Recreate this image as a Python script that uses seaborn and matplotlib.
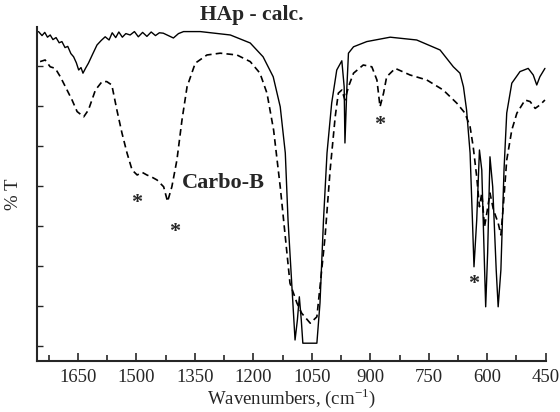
import numpy as np
import pandas as pd
import matplotlib
matplotlib.use("Agg")
import matplotlib.pyplot as plt
import seaborn as sns

# HAp - calc. (solid line), wavenumber in cm-1 and %T in arbitrary units
hap_wn = [1751, 1742, 1735, 1728, 1721, 1714, 1706, 1698, 1691, 1683, 1676, 1668, 1661,
          1654, 1648, 1642, 1637, 1630, 1623, 1612, 1601, 1590, 1580, 1570, 1562, 1553,
          1545, 1536, 1527, 1516, 1505, 1495, 1484, 1473, 1462, 1451, 1441, 1431, 1418,
          1405, 1392, 1379, 1336, 1259, 1208, 1175, 1149, 1131, 1118, 1111, 1101, 1093,
          1087, 1082, 1077, 1073, 1037, 1029, 1020, 1011, 999, 986, 973, 967, 965, 960,
          956, 943, 909, 849, 781, 721, 687, 670, 661, 653, 644, 638, 634, 627, 620, 614,
          608, 604, 599, 593, 586, 577, 572, 565, 557, 550, 537, 516, 495, 482, 473, 465,
          452]
hap_t = [78.6, 77.6, 78.4, 77.2, 77.75, 76.6, 77.1, 75.8, 76.1, 74.6, 74.9, 73.1, 72.3,
         70.8, 69.0, 69.6, 68.2, 69.5, 70.7, 73.0, 75.25, 76.4, 77.3, 76.5, 78.3, 77.1,
         78.5, 77.2, 78.1, 77.75, 78.6, 77.3, 78.4, 77.4, 78.5, 77.6, 78.3, 78.2, 77.6,
         77.0, 78.1, 78.6, 78.6, 77.75, 75.75, 72.3, 67.3, 59.8, 48.25, 31.5, 14.8, 1.5,
         6.5, 12.3, 6.5, 0.7, 0.7, 10.75, 31.5, 48.25, 60.75, 69.0, 71.3, 64.8, 50.75,
         64.8, 73.2, 74.8, 76.1, 77.2, 76.5, 74.0, 69.8, 68.2, 64.8, 59.0, 48.25, 31.5,
         19.8, 31.5, 49.0, 44.0, 23.25, 9.8, 23.25, 47.3, 39.8, 19.0, 9.8, 19.0, 44.0,
         58.25, 65.7, 68.6, 69.4, 67.75, 65.25, 67.3, 69.4]

# Carbo-B (dashed line)
carbo_wn = [1747, 1734, 1721, 1708, 1695, 1682, 1665, 1652, 1635, 1623, 1605, 1588, 1576,
            1563, 1550, 1537, 1524, 1511, 1498, 1485, 1473, 1460, 1447, 1430, 1420, 1409,
            1396, 1383, 1370, 1349, 1319, 1285, 1242, 1208, 1183, 1165, 1148, 1131, 1118,
            1106, 1088, 1076, 1054, 1037, 1029, 1016, 1003, 990, 982, 973, 965, 956, 943,
            918, 896, 883, 875, 866, 858, 836, 798, 755, 713, 678, 657, 644, 636, 627,
            620, 614, 607, 601, 593, 584, 572, 565, 559, 550, 537, 524, 503, 490, 477,
            465, 452]
carbo_t = [71.1, 71.5, 69.8, 69.4, 67.3, 64.8, 61.5, 58.6, 57.3, 59.0, 64.0, 66.1, 66.1,
           65.25, 59.0, 53.25, 48.25, 44.0, 42.75, 43.4, 42.75, 42.2, 41.5, 39.8, 36.1,
           39.8, 46.5, 56.5, 64.8, 70.7, 72.75, 73.2, 72.75, 71.1, 68.2, 63.2, 54.0, 39.8,
           27.3, 15.7, 10.7, 8.2, 5.7, 7.3, 14.8, 27.3, 44.0, 57.3, 63.2, 64.0, 61.5, 64.8,
           68.2, 70.25, 69.8, 66.5, 59.8, 63.2, 67.3, 69.4, 67.75, 66.5, 64.0, 60.7, 58.2,
           54.8, 49.8, 42.3, 34.8, 38.25, 29.8, 33.25, 38.25, 34.0, 30.75, 27.75, 34.8,
           46.5, 54.0, 58.2, 61.5, 61.1, 59.4, 60.25, 61.5]

xticks = [1650, 1500, 1350, 1200, 1050, 900, 750, 600, 450]

hap = pd.DataFrame({"wn": hap_wn, "T": hap_t})
carbo = pd.DataFrame({"wn": carbo_wn, "T": carbo_t})

sns.set_style("ticks")
plt.rcParams["font.family"] = ["Liberation Serif", "DejaVu Serif"]
plt.rcParams["mathtext.fontset"] = "custom"
plt.rcParams["mathtext.rm"] = "Liberation Serif"

fig = plt.figure(figsize=(5.6, 4.12), dpi=100)
ax = fig.add_axes([0.066, 0.1238, 0.9085, 0.8107])

sns.lineplot(data=hap, x="wn", y="T", sort=False, color="black", lw=1.0, ax=ax)
sns.lineplot(data=carbo, x="wn", y="T", sort=False, color="black", lw=1.2,
             linestyle=(0, (4, 2.5)), ax=ax)

ax.set_xlim(1755, 450)
ax.set_ylim(-3.75, 79.75)
ax.set_xticks(xticks)
ax.set_xticks(np.arange(1725, 449, -150), minor=True)
ax.set_yticks(np.arange(0, 71, 10))
ax.set_yticklabels([])
ax.tick_params(axis="x", which="major", direction="in", length=6, width=1.2,
               labelsize=13.5, pad=6)
ax.tick_params(axis="x", which="minor", direction="in", length=4, width=1.2)
ax.tick_params(axis="y", direction="in", length=4, width=1.0)
sns.despine(ax=ax)
for s in ["left", "bottom"]:
    ax.spines[s].set_linewidth(1.5)

ax.set_xlabel(r"Wavenumbers, (cm$^{\mathrm{-1}}$)", fontsize=13.5, labelpad=0)
ax.set_ylabel("% T", fontsize=13.5, labelpad=7)

ax.text(1203, 82.75, "HAp - calc.", fontsize=15.5, fontweight="bold",
        ha="center", va="center", clip_on=False)
ax.text(1277, 40.75, "Carbo-B", fontsize=16, fontweight="bold",
        ha="center", va="center")
for wx, ty in [(1500, 35.75), (1403, 28.5), (875, 55.25), (634, 15.5)]:
    ax.text(wx, ty, "*", fontsize=16, fontweight="bold", ha="center", va="center")

fig.savefig("out.png", dpi=100)
